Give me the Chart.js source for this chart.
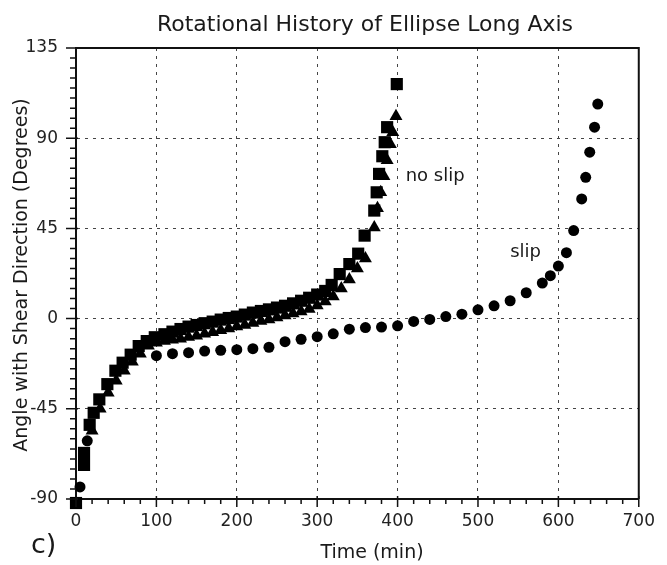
<!DOCTYPE html>
<html>
<head>
<title>Rotational History of Ellipse Long Axis</title>
<style>
  body { margin: 0; background: #fff; }
  #wrap { width: 667px; height: 565px; }
</style>
</head>
<body>
<div id="wrap"><canvas id="chart" width="667" height="565"></canvas></div>
<script src="https://cdn.jsdelivr.net/npm/chart.js"></script>
<script>
// slip run (circles)
const slipTime  = [0, 5, 14, 100, 120, 140, 160, 180, 200, 220, 240, 260, 280, 300, 320, 340, 360, 380, 400,
                   420, 440, 460, 480, 500, 520, 540, 560, 580, 590, 600, 610, 619, 629, 634, 639, 645, 649];
const slipAngle = [-92, -84, -61, -18.5, -17.5, -17, -16.2, -15.8, -15.5, -15, -14.3, -11.5, -10.3, -9, -7.6, -5.3, -4.5, -4.2, -3.6,
                   -1.4, -0.4, 1, 2.2, 4.4, 6.4, 8.9, 12.9, 17.7, 21.4, 26.2, 32.9, 43.9, 59.7, 70.5, 83, 95.5, 107];

// no slip run (squares)
const squareTime  = [0, 10, 10, 17, 22, 29, 39, 49, 58, 68, 78, 88, 98,
                     110, 120, 130, 140, 150, 160, 170, 180, 190, 200, 210, 220, 230, 240, 250, 260, 270, 280, 290, 300, 310,
                     318, 328, 340, 351, 359, 371, 374, 377, 381, 384, 387, 399];
const squareAngle = [-92, -73, -67, -53, -47, -40.3, -32.7, -26, -22, -18, -13.7, -11.2, -9.3,
                     -7.8, -6.5, -5.2, -4, -3.2, -2.3, -1.5, -0.5, 0.3, 1, 2, 3, 3.8, 4.6, 5.5, 6.4, 7.6, 8.9, 10.4, 12, 13.8,
                     16.8, 22.2, 27.2, 32.4, 41.4, 53.9, 63, 72.2, 81, 88, 95.5, 117];

// no slip run (triangles)
const triTime  = [20, 30, 40, 50, 60, 70, 80, 90, 100, 110, 120, 130, 140, 150, 160, 170, 180, 190, 200, 210,
                  220, 230, 240, 250, 260, 270, 280, 290, 300, 310, 320, 330, 340, 350, 360,
                  371, 375, 379, 383, 387, 391, 394, 398];
const triAngle = [-56, -45, -37, -31, -26, -21.5, -17.5, -13.5, -12, -11.2, -10.5, -10, -9.2, -8.5, -7.5, -6.8, -5.8, -5, -4, -3.2,
                  -2.2, -1.2, -0.5, 0.5, 1.5, 2.5, 3.5, 4.8, 6.5, 8.5, 11, 15, 19.5, 25, 30,
                  45.5, 55, 63, 71, 79, 87, 93, 101];

const xTickValues = [0, 100, 200, 300, 400, 500, 600, 700];
const yTickValues = [-90, -45, 0, 45, 90, 135];

// curve labels, placed in data units
const noteText  = ['no slip', 'slip'];
const noteTime  = [410, 540];
const noteAngle = [68.5, 30.7];

const toPoints = (xs, ys) => xs.map((t, i) => ({ x: t, y: ys[i] }));

Chart.defaults.font.family = '"DejaVu Sans", sans-serif';
Chart.defaults.color = '#222';

// frame, minor ticks and all the text
const decor = {
    id: 'decor',
    afterDraw(chart) {
        const { ctx, chartArea: a, scales: { x, y } } = chart;
        ctx.save();
        ctx.strokeStyle = '#111';
        ctx.lineWidth = 2;
        ctx.beginPath();
        ctx.moveTo(a.left, a.top);
        ctx.lineTo(a.right, a.top);
        ctx.lineTo(a.right, a.bottom);
        ctx.stroke();

        ctx.lineWidth = 1.5;
        ctx.beginPath();
        for (let v = x.min; v <= x.max; v += 20) {
            const px = x.getPixelForValue(v);
            const major = v % 100 === 0;
            ctx.moveTo(px, a.bottom - (major ? 3 : 0));
            ctx.lineTo(px, a.bottom + (major ? 8 : 5));
        }
        for (let v = y.min; v <= y.max; v += 5) {
            const py = y.getPixelForValue(v);
            const major = v % 45 === 0;
            ctx.moveTo(a.left - (major ? 10 : 6), py);
            ctx.lineTo(a.left + (major ? 2 : 0), py);
        }
        ctx.stroke();

        ctx.fillStyle = '#1a1a1a';
        ctx.textBaseline = 'alphabetic';
        ctx.textAlign = 'center';
        ctx.font = '22px "DejaVu Sans"';
        ctx.fillText('Rotational History of Ellipse Long Axis', 365, 31);
        ctx.font = '19px "DejaVu Sans"';
        ctx.fillText('Time (min)', 372, 558);

        ctx.save();
        ctx.translate(22, 275);
        ctx.rotate(-Math.PI / 2);
        ctx.textBaseline = 'middle';
        ctx.fillText('Angle with Shear Direction (Degrees)', 0, 0);
        ctx.restore();

        ctx.textAlign = 'left';
        ctx.font = '27px "DejaVu Sans"';
        ctx.fillText('c)', 31, 553);

        ctx.font = '18px "DejaVu Sans"';
        noteText.forEach((s, i) => {
            ctx.fillText(s, x.getPixelForValue(noteTime[i]), y.getPixelForValue(noteAngle[i]));
        });
        ctx.restore();
    }
};

const gridOpts = { color: '#444', lineWidth: 1, drawTicks: false };
const borderOpts = { display: true, color: '#111', width: 2, dash: [3, 5] };

new Chart(document.getElementById('chart'), {
    type: 'scatter',
    data: {
        datasets: [
            {
                label: 'no slip (squares)',
                data: toPoints(squareTime, squareAngle),
                pointStyle: 'rect',
                pointRadius: 8.6,
                backgroundColor: '#000',
                borderColor: '#000',
                borderWidth: 0,
                clip: false
            },
            {
                label: 'no slip (triangles)',
                data: toPoints(triTime, triAngle),
                pointStyle: 'triangle',
                pointRadius: 7.5,
                backgroundColor: '#000',
                borderColor: '#000',
                borderWidth: 0,
                clip: false
            },
            {
                label: 'slip',
                data: toPoints(slipTime, slipAngle),
                pointStyle: 'circle',
                pointRadius: 5.5,
                backgroundColor: '#000',
                borderColor: '#000',
                borderWidth: 0,
                clip: false
            }
        ]
    },
    options: {
        responsive: false,
        animation: false,
        layout: { padding: { left: 0, top: 48, right: 18, bottom: 0 } },
        plugins: {
            legend: { display: false },
            tooltip: { enabled: false },
            title: { display: false }
        },
        scales: {
            x: {
                type: 'linear',
                min: 0,
                max: 700,
                afterBuildTicks: s => { s.ticks = xTickValues.map(v => ({ value: v })); },
                afterFit: s => { s.height = 66; },
                ticks: { font: { size: 17 }, padding: 12, maxRotation: 0, autoSkip: false },
                grid: gridOpts,
                border: borderOpts
            },
            y: {
                type: 'linear',
                min: -90,
                max: 135,
                afterBuildTicks: s => { s.ticks = yTickValues.map(v => ({ value: v })); },
                afterFit: s => { s.width = 76; },
                ticks: { font: { size: 17 }, padding: 18, autoSkip: false },
                grid: gridOpts,
                border: borderOpts
            }
        }
    },
    plugins: [decor]
});
</script>
</body>
</html>
